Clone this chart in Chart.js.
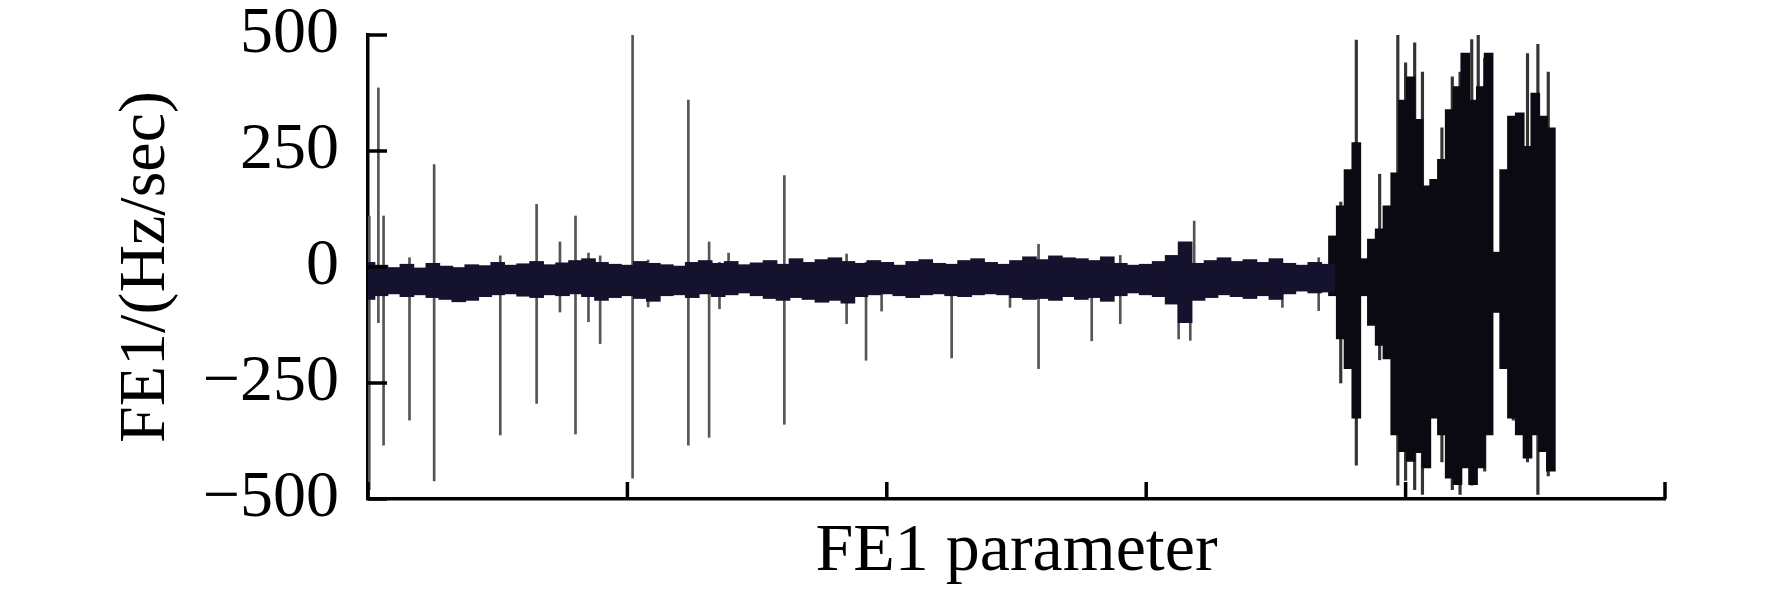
<!DOCTYPE html>
<html>
<head>
<meta charset="utf-8">
<script src="https://cdn.jsdelivr.net/npm/chart.js@4.4.0/dist/chart.umd.min.js"></script>
<style>
  body { margin: 0; background: #fff; }
  canvas { display: block; }
</style>
</head>
<body>
<canvas id="grafico" width="1772" height="598"></canvas>
<script>
// Tick values of the y axis
const yTicks = [-500, -250, 0, 250, 500];

// Quiet part of the signal: envelope (low/high) every 10 units of x
const quietX = [0, 10, 20, 30, 40, 50, 60, 70, 80, 90, 100, 110, 120, 130, 140, 150, 160, 170, 180, 190,
  200, 210, 220, 230, 240, 250, 260, 270, 280, 290, 300, 310, 320, 330, 340, 350, 360, 370, 380, 390,
  400, 410, 420, 430, 440, 450, 460, 470, 480, 490, 500, 510, 520, 530, 540, 550, 560, 570, 580, 590,
  600, 610, 620, 630, 640, 650, 660, 670, 680, 690, 700, 710, 720, 730, 740];
const quietHi = [10, 4, 0, 6, -2, 8, 2, 0, 5, 3, 10, 4, 7, 12, 5, 9, 14, 18, 10, 6,
  4, 12, 8, 5, 2, 10, 14, 8, 12, 5, 9, 14, 6, 18, 10, 16, 20, 12, 8, 14,
  10, 4, 12, 16, 8, 6, 14, 18, 10, 6, 14, 22, 16, 24, 20, 18, 14, 22, 8, 4,
  6, 12, 25, 54, 8, 14, 20, 12, 16, 10, 18, 8, 4, 10, 6];
const quietLo = [-70, -62, -58, -64, -60, -66, -70, -75, -72, -64, -60, -58, -63, -66, -60, -62, -58, -64, -72, -66,
  -62, -68, -74, -62, -60, -66, -58, -64, -60, -56, -62, -68, -72, -66, -70, -76, -72, -78, -64, -60,
  -58, -62, -66, -60, -58, -62, -64, -60, -58, -60, -66, -70, -68, -72, -64, -70, -66, -74, -62, -56,
  -60, -64, -80, -120, -72, -66, -60, -64, -68, -62, -70, -58, -52, -56, -54];

// Burst part of the signal: envelope every 6 units of x
const burstX = [744, 750, 756, 762, 768, 774, 780, 786, 792, 798, 804, 810, 816, 822, 828,
  834, 840, 846, 852, 858, 864, 870, 876, 882, 888, 894, 900, 906, 912];
const burstHi = [67, 132, 210, 268, 18, 60, 82, 132, 203, 360, 410, 318, 175, 189, 232,
  339, 389, 461, 360, 389, 461, 32, 210, 325, 332, 260, 375, 325, 300];
const burstLo = [-62, -155, -219, -326, -62, -126, -169, -198, -362, -398, -419, -400, -433, -326, -362,
  -455, -469, -433, -469, -433, -362, -98, -219, -326, -362, -412, -362, -398, -440];

// Isolated spikes (thin vertical lines)
const spikeX = [1, 8, 12, 32, 51, 102, 130, 148, 160, 170, 179, 204, 216, 247, 263, 271, 278,
  321, 369, 384, 396, 450, 495, 517, 558, 580, 625, 634, 637, 705, 733];
const spikeHi = [110, 386, 110, 20, 221, 24, 135, 54, 110, 30, 24, 500, 15, 360, 54, 10, 30,
  197, 28, 10, 5, 5, 5, 49, 10, 25, 0, 0, 99, 0, 20];
const spikeLo = [-480, -120, -384, -330, -461, -362, -294, -97, -360, -118, -165, -455, -86, -384, -367, -90, -40,
  -339, -122, -201, -95, -196, -87, -219, -159, -122, -155, -158, -60, -87, -94];

// Spikes inside the burst
const burstSpikeX = [750, 762, 780, 794, 800, 807, 813, 828, 836, 842, 851, 856, 861, 883, 894, 902, 910];
const burstSpikeHi = [140, 489, 200, 500, 440, 483, 420, 300, 410, 420, 490, 510, 450, 250, 460, 480, 420];
const burstSpikeLo = [-250, -427, -200, -470, -460, -480, -490, -420, -480, -490, -470, -400, -440, -330, -420, -490, -450];

const pares = (xs, lo, hi) => xs.map((x, i) => ({ x: x, y: [lo[i], hi[i]] }));

const serif = "'Liberation Serif', 'Times New Roman', serif";

// ticks pointing into the plot area
const ticksInternos = {
  id: 'ticksInternos',
  afterDraw(chart) {
    const { ctx, chartArea: a, scales: { x, y } } = chart;
    ctx.save();
    ctx.strokeStyle = '#000';
    ctx.lineWidth = 3.5;
    ctx.beginPath();
    y.ticks.forEach(t => {
      const py = y.getPixelForValue(t.value);
      ctx.moveTo(a.left, py);
      ctx.lineTo(a.left + 19, py);
    });
    x.ticks.forEach(t => {
      const px = x.getPixelForValue(t.value);
      ctx.moveTo(px, a.bottom);
      ctx.lineTo(px, a.bottom - 17);
    });
    ctx.stroke();
    ctx.restore();
  }
};

const ctx = document.getElementById('grafico').getContext('2d');
new Chart(ctx, {
  type: 'bar',
  data: {
    datasets: [
      { data: pares(quietX, quietLo, quietHi), backgroundColor: '#15122d', barThickness: 14 },
      { data: pares(burstX, burstLo, burstHi), backgroundColor: '#0b0a12', barThickness: 9 },
      { data: pares(spikeX, spikeLo, spikeHi), backgroundColor: '#555555', barThickness: 2 },
      { data: pares(burstSpikeX, burstSpikeLo, burstSpikeHi), backgroundColor: '#333333', barThickness: 2.5 }
    ]
  },
  options: {
    responsive: false,
    animation: false,
    layout: { padding: { top: 35, right: 107, left: 0, bottom: 0 } },
    datasets: { bar: { grouped: false } },
    plugins: { legend: { display: false }, tooltip: { enabled: false } },
    scales: {
      x: {
        type: 'linear', min: 0, max: 1000, offset: false, z: 1,
        ticks: { display: false, stepSize: 200 },
        grid: { drawOnChartArea: false, drawTicks: false },
        border: { color: '#000', width: 3.5 },
        title: { display: true, text: 'FE1 parameter', color: '#000',
          font: { family: serif, size: 68, lineHeight: 1.2 }, padding: { top: 0, bottom: 5 } },
        afterFit(s) { s.height = 99; }
      },
      y: {
        min: -500, max: 500, z: 1,
        afterBuildTicks(s) { s.ticks = yTicks.map(v => ({ value: v })); },
        ticks: {
          color: '#000', padding: 0,
          font: { family: serif, size: 66, lineHeight: 1 },
          callback: v => String(v).replace('-', '\u2212')
        },
        // invisible tick marks keep the labels away from the axis
        grid: { drawOnChartArea: false, drawTicks: true, tickLength: 29, tickColor: 'rgba(0,0,0,0)' },
        border: { color: '#000', width: 3.5 },
        title: { display: true, text: 'FE1/(Hz/sec)', color: '#000',
          font: { family: serif, size: 66, lineHeight: 1.2 }, padding: { top: 107, bottom: 0 } },
        afterFit(s) { s.width = 368; }
      }
    }
  },
  plugins: [ticksInternos]
});
</script>
</body>
</html>
